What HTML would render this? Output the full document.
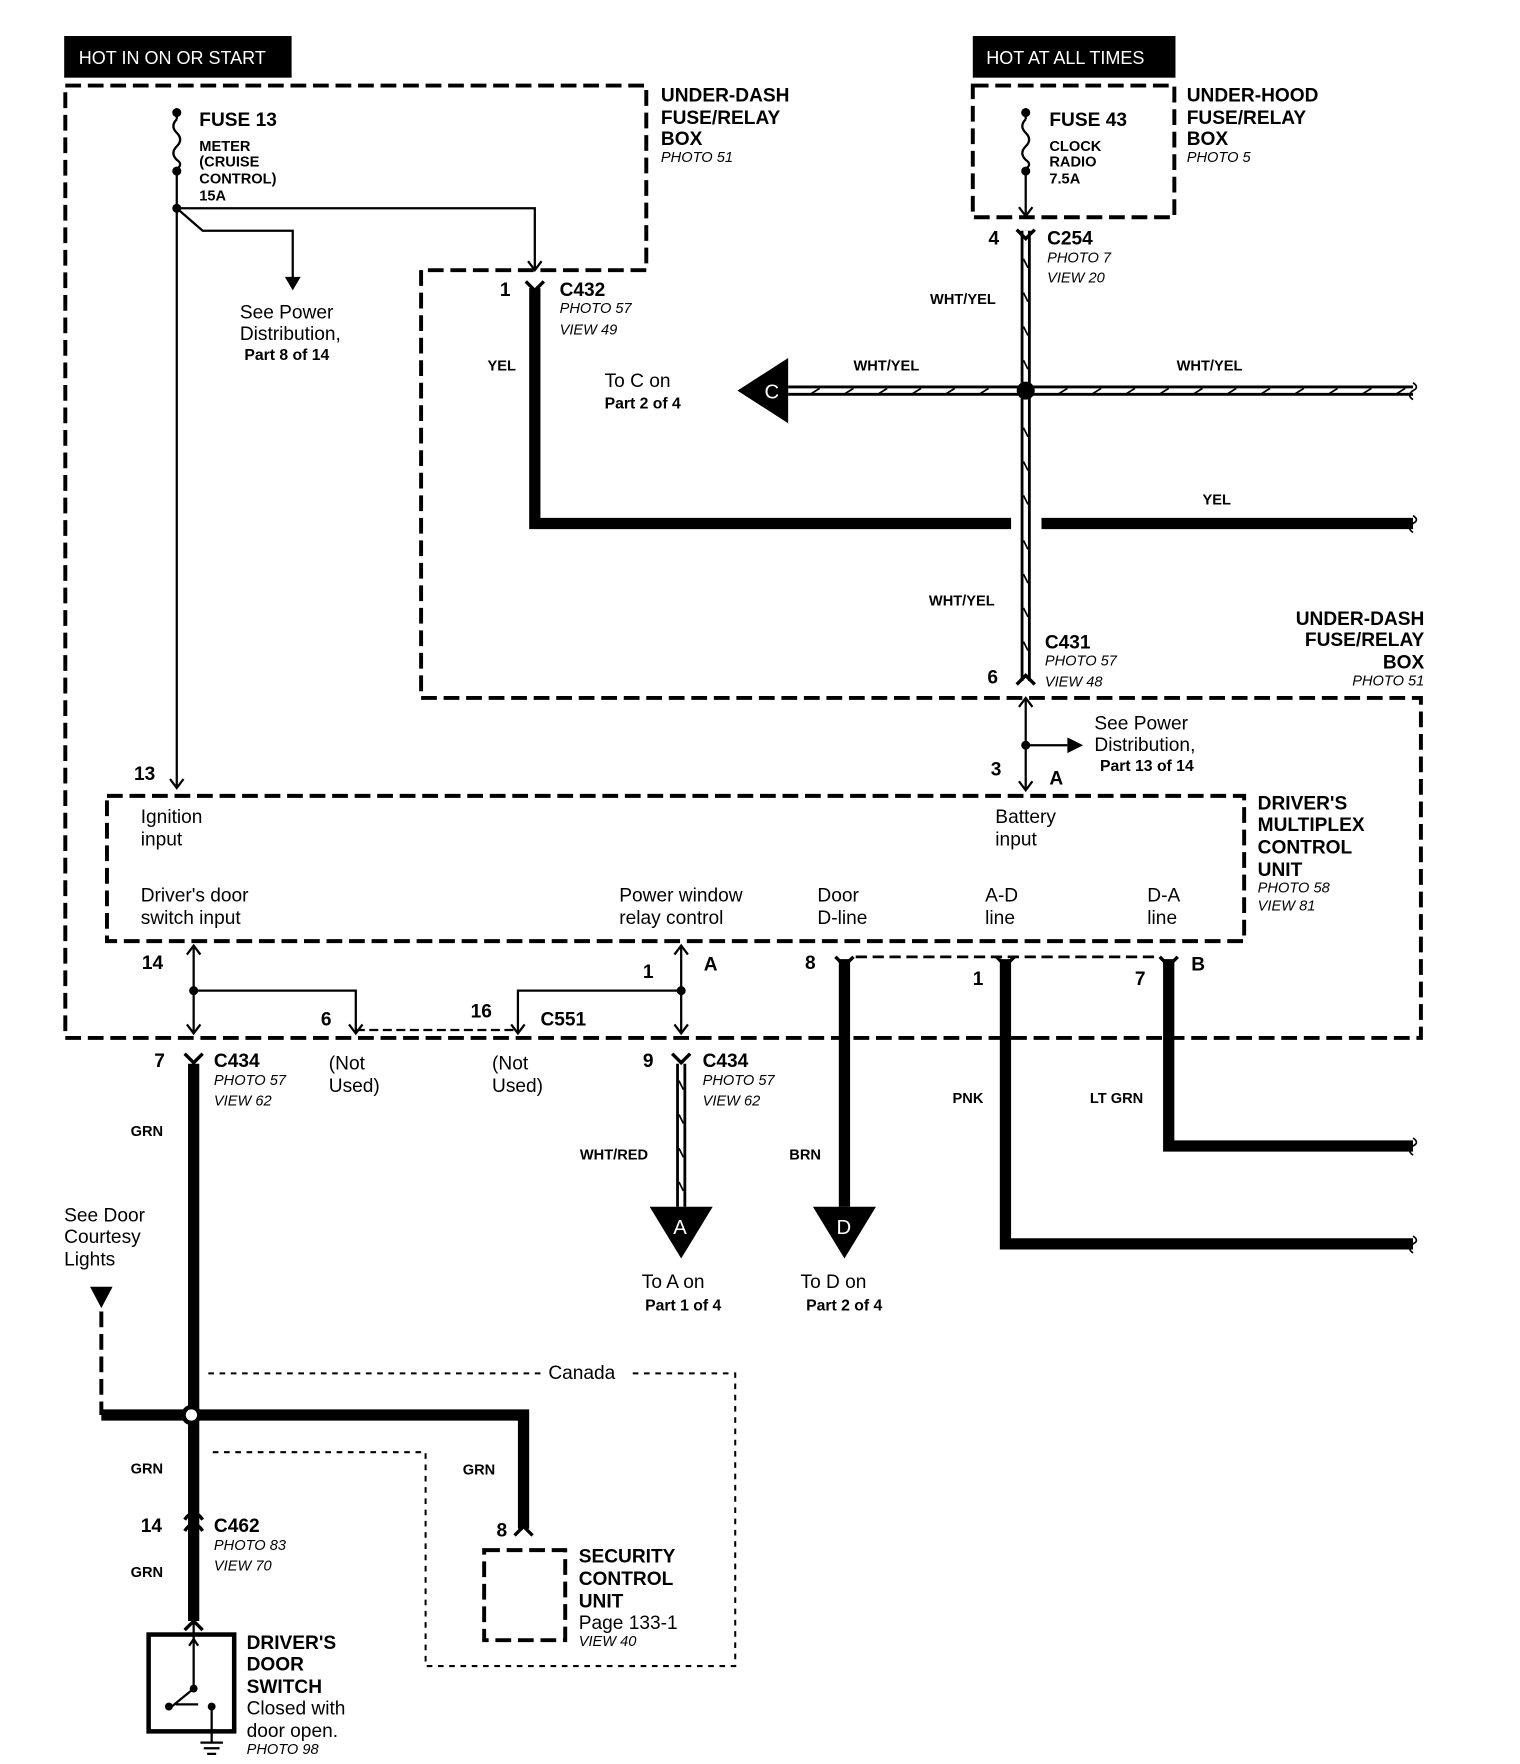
<!DOCTYPE html>
<html><head><meta charset="utf-8"><style>
html,body{margin:0;padding:0;background:#fff;}
svg{display:block;}
text{font-family:"Liberation Sans Narrow","Liberation Sans",sans-serif;fill:#000;}
.b{font-weight:bold;}
.i{font-style:italic;font-size:13px;}
.h{font-size:17px;font-weight:bold;}
.n{font-size:17px;}
.w{font-size:13px;font-weight:bold;}
</style></head><body>
<svg width="1520" height="1764" viewBox="0 0 1350 1567" preserveAspectRatio="none" xmlns="http://www.w3.org/2000/svg">
<rect width="1350" height="1567" fill="#fff"/>
<rect x="57" y="32" width="202" height="37" fill="#000"/>
<text x="70" y="57" style="fill:#fff;font-size:16px">HOT IN ON OR START</text>
<rect x="864" y="32" width="180" height="37" fill="#000"/>
<text x="876" y="57" style="fill:#fff;font-size:16px">HOT AT ALL TIMES</text>

<g fill="none" stroke="#000" stroke-width="3.5" stroke-dasharray="14,6">
<path d="M58 76 H574 V240 H374 V620 H1262 V922 H58 Z"/>
<path d="M864 76 H1043 V193 H864 Z"/>
<path d="M95 707 H1105 V836 H95 Z"/>
<path d="M430 1377 H502 V1457 H430 Z"/>
<path d="M90 1165 V1257"/>
</g>
<path d="M760 850 H1030" stroke="#000" stroke-width="2.5" stroke-dasharray="10,5" fill="none"/>
<path d="M316 915 H460" stroke="#000" stroke-width="2" stroke-dasharray="8,4" fill="none"/>
<path d="M480 1220 H185" stroke="#000" stroke-width="1.8" stroke-dasharray="5,5" fill="none"/>
<path d="M562 1220 H653 V1480 H378 V1290 H185" stroke="#000" stroke-width="1.8" stroke-dasharray="5,5" fill="none"/>

<g fill="none" stroke="#000" stroke-width="2">
<path d="M157 96 V106 M157 150 V700"/>
<path d="M157 106 q-6 6 0 12 q6 6 0 12 q-6 6 0 12 q6 4 0 8"/>
<path d="M157 185 H475 V240"/>
<path d="M157 185 L180 205 H260 V248"/>
<path d="M911 96 V106 M911 150 V190"/>
<path d="M911 106 q-6 6 0 12 q6 6 0 12 q-6 6 0 12 q6 4 0 8"/>
<path d="M911 620 V702"/>
<path d="M911 662 H948"/>
<path d="M172 840 V918 M172 880 H316 V918"/>
<path d="M605 840 V918 M605 880 H460 V918"/>
</g>
<g fill="#000">
<circle cx="157" cy="100" r="4"/><circle cx="157" cy="152" r="4"/><circle cx="157" cy="185" r="4"/>
<circle cx="911" cy="100" r="4"/><circle cx="911" cy="152" r="4"/>
<circle cx="911" cy="662" r="4"/>
<circle cx="172" cy="880" r="4"/><circle cx="605" cy="880" r="4"/>
<polygon points="253,246 267,246 260,258"/>
<polygon points="948,655 962,662 948,669"/>
</g>
<g fill="none" stroke="#000" stroke-width="2">
<path d="M469 232 L475 240 L481 232"/>
<path d="M905 184 L911 192 L917 184"/>
<path d="M905 628 L911 620 L917 628"/>
<path d="M905 694 L911 702 L917 694"/>
<path d="M151 692 L157 700 L163 692"/>
<path d="M166 848 L172 840 L178 848"/>
<path d="M166 910 L172 918 L178 910"/>
<path d="M310 910 L316 918 L322 910"/>
<path d="M454 910 L460 918 L466 910"/>
<path d="M599 848 L605 840 L611 848"/>
<path d="M599 910 L605 918 L611 910"/>
</g>
<g fill="none" stroke="#000" stroke-width="10">
<path d="M475 256 V465 H898 M925 465 H1255"/>
<path d="M172 945 V1440"/>
<path d="M750 852 V1072"/>
<path d="M893 852 V1105 H1255"/>
<path d="M1038 852 V1018 H1255"/>
<path d="M90 1257 H465 V1358"/>
</g>
<g fill="none" stroke="#000">
<path d="M911 205 V605" stroke-width="9"/>
<path d="M911 205 V605" stroke="#fff" stroke-width="4"/>
<path d="M700 347 H1255" stroke-width="9"/>
<path d="M700 347 H1255" stroke="#fff" stroke-width="4"/>
<path d="M605 945 V1072" stroke-width="9"/>
<path d="M605 945 V1072" stroke="#fff" stroke-width="4"/>
</g>
<g fill="none" stroke="#000" stroke-width="1.5">
<path d="M720 350 l8 -5 M750 350 l8 -5 M780 350 l8 -5 M810 350 l8 -5 M840 350 l8 -5 M870 350 l8 -5 M940 350 l8 -5 M970 350 l8 -5 M1000 350 l8 -5 M1030 350 l8 -5 M1060 350 l8 -5 M1090 350 l8 -5 M1120 350 l8 -5 M1150 350 l8 -5 M1180 350 l8 -5 M1210 350 l8 -5 M1240 350 l8 -5"/>
<path d="M909 230 l4 8 M909 260 l4 8 M909 290 l4 8 M909 320 l4 8 M909 380 l4 8 M909 410 l4 8 M909 440 l4 8 M909 480 l4 8 M909 510 l4 8 M909 540 l4 8 M909 570 l4 8"/>
<path d="M603 960 l4 8 M603 990 l4 8 M603 1020 l4 8 M603 1050 l4 8"/>
<path d="M1255 340 q6 4 0 7 q-6 4 0 8 M1255 458 q6 4 0 7 q-6 4 0 8 M1255 1011 q6 4 0 7 q-6 4 0 8 M1255 1098 q6 4 0 7 q-6 4 0 8"/>
</g>
<circle cx="911" cy="347" r="8" fill="#000"/>
<circle cx="170" cy="1257" r="9" fill="#000"/>
<circle cx="170" cy="1257" r="5" fill="#fff"/>
<g fill="none" stroke="#000" stroke-width="3">
<path d="M467 250 L475 258 L483 250"/>
<path d="M903 204 L911 212 L919 204"/>
<path d="M903 608 L911 600 L919 608"/>
<path d="M164 936 L172 944 L180 936"/>
<path d="M597 936 L605 944 L613 936"/>
<path d="M742 850 L750 858 L758 850"/>
<path d="M885 850 L893 858 L901 850"/>
<path d="M1030 850 L1038 858 L1046 850"/>
<path d="M457 1364 L465 1356 L473 1364"/>
<path d="M164 1360 q8 -12 16 0 M164 1350 q8 -12 16 0"/>
<path d="M164 1448 L172 1440 L180 1448"/>
</g>
<polygon points="655,347 700,318 700,376" fill="#000"/>
<text x="679" y="354" style="fill:#fff;font-size:18px">C</text>
<polygon points="577,1072 633,1072 605,1118" fill="#000"/>
<text x="598" y="1096" style="fill:#fff;font-size:18px">A</text>
<polygon points="722,1072 778,1072 750,1118" fill="#000"/>
<text x="743" y="1096" style="fill:#fff;font-size:18px">D</text>
<polygon points="80,1143 100,1143 90,1162" fill="#000"/>

<rect x="132" y="1452" width="76" height="86" fill="none" stroke="#000" stroke-width="4"/>
<g fill="none" stroke="#000" stroke-width="2">
<path d="M172 1440 V1500 L150 1518 M168 1462 L172 1456 L176 1462 M188 1518 V1548 M178 1548 H198 M181 1553 H195 M184 1558 H192 M156 1514 H176"/>
</g>
<circle cx="172" cy="1500" r="3.5"/><circle cx="150" cy="1516" r="3.5"/><circle cx="188" cy="1516" r="3.5"/>

<text x="177" y="112" class="h">FUSE 13</text>
<text x="177" y="134" class="w">METER</text>
<text x="177" y="148" class="w">(CRUISE</text>
<text x="177" y="163" class="w">CONTROL)</text>
<text x="177" y="178" class="w">15A</text>
<text x="587" y="90" class="h">UNDER-DASH</text>
<text x="587" y="110" class="h">FUSE/RELAY</text>
<text x="587" y="129" class="h">BOX</text>
<text x="587" y="144" class="i">PHOTO 51</text>
<text x="213" y="283" class="n">See Power</text>
<text x="213" y="302" class="n">Distribution,</text>
<text x="217" y="320" class="w" style="font-size:14px">Part 8 of 14</text>
<text x="444" y="263" class="h">1</text>
<text x="497" y="263" class="h">C432</text>
<text x="497" y="278" class="i">PHOTO 57</text>
<text x="497" y="297" class="i">VIEW 49</text>
<text x="433" y="329" class="w">YEL</text>
<text x="537" y="344" class="n">To C on</text>
<text x="537" y="363" class="w" style="font-size:14px">Part 2 of 4</text>
<text x="932" y="112" class="h">FUSE 43</text>
<text x="932" y="134" class="w">CLOCK</text>
<text x="932" y="148" class="w">RADIO</text>
<text x="932" y="163" class="w">7.5A</text>
<text x="1054" y="90" class="h">UNDER-HOOD</text>
<text x="1054" y="110" class="h">FUSE/RELAY</text>
<text x="1054" y="129" class="h">BOX</text>
<text x="1054" y="144" class="i">PHOTO 5</text>
<text x="878" y="217" class="h">4</text>
<text x="930" y="217" class="h">C254</text>
<text x="930" y="233" class="i">PHOTO 7</text>
<text x="930" y="251" class="i">VIEW 20</text>
<text x="826" y="270" class="w">WHT/YEL</text>
<text x="758" y="329" class="w">WHT/YEL</text>
<text x="1045" y="329" class="w">WHT/YEL</text>
<text x="1068" y="448" class="w">YEL</text>
<text x="825" y="538" class="w">WHT/YEL</text>
<text x="1265" y="555" class="h" text-anchor="end">UNDER-DASH</text>
<text x="1265" y="574" class="h" text-anchor="end">FUSE/RELAY</text>
<text x="1265" y="594" class="h" text-anchor="end">BOX</text>
<text x="1265" y="609" class="i" text-anchor="end">PHOTO 51</text>
<text x="928" y="576" class="h">C431</text>
<text x="928" y="591" class="i">PHOTO 57</text>
<text x="928" y="610" class="i">VIEW 48</text>
<text x="877" y="607" class="h">6</text>
<text x="972" y="648" class="n">See Power</text>
<text x="972" y="667" class="n">Distribution,</text>
<text x="977" y="685" class="w" style="font-size:14px">Part 13 of 14</text>
<text x="880" y="689" class="h">3</text>
<text x="932" y="697" class="h">A</text>
<text x="119" y="693" class="h">13</text>
<text x="125" y="731" class="n">Ignition</text>
<text x="125" y="751" class="n">input</text>
<text x="884" y="731" class="n">Battery</text>
<text x="884" y="751" class="n">input</text>
<text x="1117" y="719" class="h">DRIVER'S</text>
<text x="1117" y="738" class="h">MULTIPLEX</text>
<text x="1117" y="758" class="h">CONTROL</text>
<text x="1117" y="778" class="h">UNIT</text>
<text x="1117" y="793" class="i">PHOTO 58</text>
<text x="1117" y="809" class="i">VIEW 81</text>
<text x="125" y="801" class="n">Driver's door</text>
<text x="125" y="821" class="n">switch input</text>
<text x="550" y="801" class="n">Power window</text>
<text x="550" y="821" class="n">relay control</text>
<text x="726" y="801" class="n">Door</text>
<text x="726" y="821" class="n">D-line</text>
<text x="875" y="801" class="n">A-D</text>
<text x="875" y="821" class="n">line</text>
<text x="1019" y="801" class="n">D-A</text>
<text x="1019" y="821" class="n">line</text>
<text x="126" y="861" class="h">14</text>
<text x="571" y="869" class="h">1</text>
<text x="625" y="862" class="h">A</text>
<text x="715" y="861" class="h">8</text>
<text x="864" y="875" class="h">1</text>
<text x="1008" y="875" class="h">7</text>
<text x="1058" y="862" class="h">B</text>
<text x="285" y="911" class="h">6</text>
<text x="418" y="904" class="h">16</text>
<text x="480" y="911" class="h">C551</text>
<text x="137" y="948" class="h">7</text>
<text x="190" y="948" class="h">C434</text>
<text x="190" y="964" class="i">PHOTO 57</text>
<text x="190" y="982" class="i">VIEW 62</text>
<text x="292" y="950" class="n">(Not</text>
<text x="292" y="970" class="n">Used)</text>
<text x="437" y="950" class="n">(Not</text>
<text x="437" y="970" class="n">Used)</text>
<text x="571" y="948" class="h">9</text>
<text x="624" y="948" class="h">C434</text>
<text x="624" y="964" class="i">PHOTO 57</text>
<text x="624" y="982" class="i">VIEW 62</text>
<text x="116" y="1009" class="w">GRN</text>
<text x="846" y="980" class="w">PNK</text>
<text x="968" y="980" class="w">LT GRN</text>
<text x="515" y="1030" class="w">WHT/RED</text>
<text x="701" y="1030" class="w">BRN</text>
<text x="570" y="1144" class="n">To A on</text>
<text x="573" y="1164" class="w" style="font-size:14px">Part 1 of 4</text>
<text x="711" y="1144" class="n">To D on</text>
<text x="716" y="1164" class="w" style="font-size:14px">Part 2 of 4</text>
<text x="57" y="1085" class="n">See Door</text>
<text x="57" y="1104" class="n">Courtesy</text>
<text x="57" y="1124" class="n">Lights</text>
<text x="487" y="1225" class="n">Canada</text>
<text x="116" y="1309" class="w">GRN</text>
<text x="411" y="1310" class="w">GRN</text>
<text x="125" y="1361" class="h">14</text>
<text x="190" y="1361" class="h">C462</text>
<text x="190" y="1377" class="i">PHOTO 83</text>
<text x="190" y="1395" class="i">VIEW 70</text>
<text x="116" y="1401" class="w">GRN</text>
<text x="441" y="1365" class="h">8</text>
<text x="514" y="1388" class="h">SECURITY</text>
<text x="514" y="1408" class="h">CONTROL</text>
<text x="514" y="1428" class="h">UNIT</text>
<text x="514" y="1447" class="n">Page 133-1</text>
<text x="514" y="1462" class="i">VIEW 40</text>
<text x="219" y="1465" class="h">DRIVER'S</text>
<text x="219" y="1484" class="h">DOOR</text>
<text x="219" y="1504" class="h">SWITCH</text>
<text x="219" y="1523" class="n">Closed with</text>
<text x="219" y="1543" class="n">door open.</text>
<text x="219" y="1558" class="i">PHOTO 98</text>
</svg>
</body></html>
